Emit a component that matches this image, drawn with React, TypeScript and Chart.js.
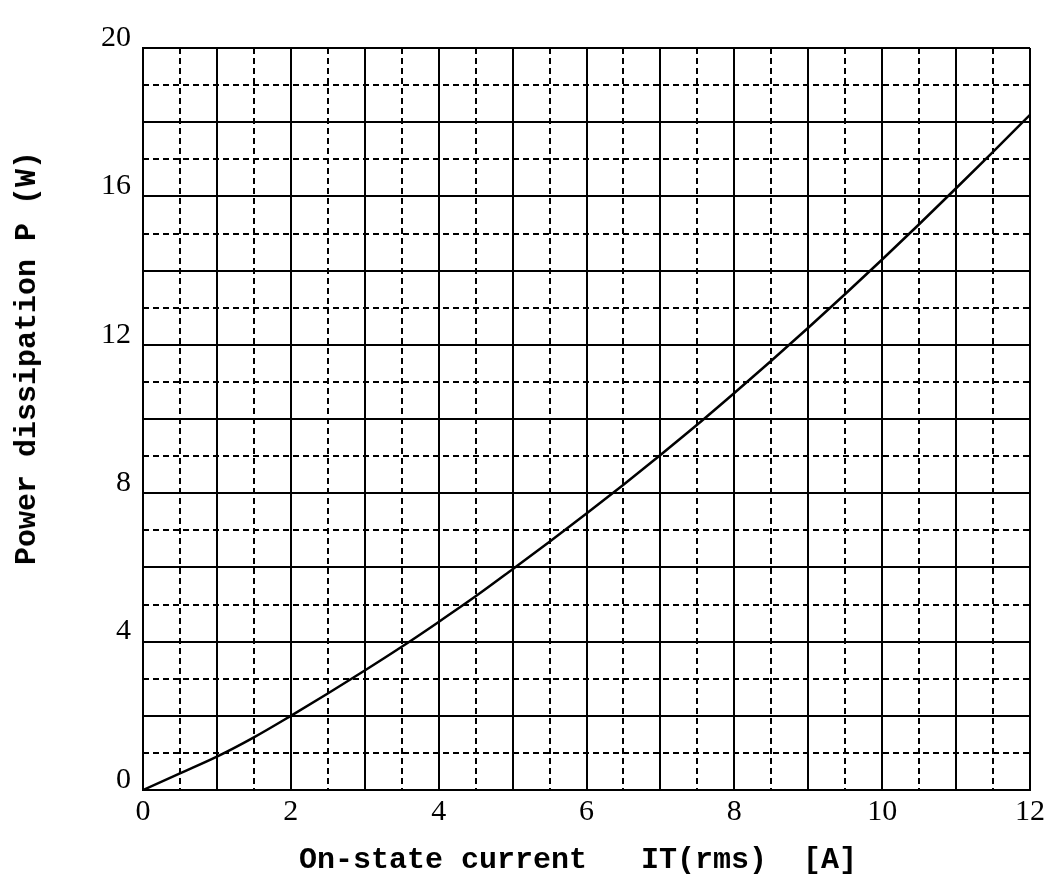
import React, { useEffect, useRef } from "react";
import { Chart, registerables } from "chart.js";

Chart.register(...registerables);

// On-state current IT(rms) [A]
const current = [0, 0.5, 1, 1.5, 2, 2.5, 3, 3.5, 4, 4.5, 5, 5.5, 6, 6.5, 7, 7.5, 8, 8.5, 9, 9.5, 10, 10.5, 11, 11.5, 12];
// Power dissipation P (W)
const power = [0, 0.45, 0.9, 1.42, 2.0, 2.6, 3.22, 3.86, 4.53, 5.22, 5.95, 6.69, 7.45, 8.23, 9.03, 9.85, 10.7, 11.57, 12.46, 13.37, 14.3, 15.25, 16.22, 17.2, 18.2];

const xLabelValues = [0, 2, 4, 6, 8, 10, 12];
const yLabelValues = [0, 4, 8, 12, 16, 20];

const xTitle = "On-state current   IT(rms)  [A]";
const yTitle = "Power dissipation P (W)";

export default function App() {
  const ref = useRef<HTMLCanvasElement | null>(null);

  useEffect(() => {
    if (!ref.current) return;
    const chart = new Chart(ref.current, {
      type: "line",
      data: {
        datasets: [
          {
            data: current.map((x, i) => ({ x, y: power[i] })),
            borderColor: "#000",
            borderWidth: 2.5,
            pointRadius: 0,
            cubicInterpolationMode: "monotone",
            fill: false,
          },
        ],
      },
      options: {
        animation: false,
        responsive: false,
        layout: { padding: { left: 0, right: 15, top: 48, bottom: 0 } },
        plugins: { legend: { display: false }, tooltip: { enabled: false } },
        scales: {
          x2: {
            type: "linear",
            position: "bottom",
            min: 0,
            max: 12,
            ticks: { stepSize: 0.5, display: false, autoSkip: false },
            grid: {
              drawTicks: false,
              lineWidth: 2,
              color: (ctx: any) => (ctx.tick && Math.abs(ctx.tick.value % 1) < 1e-6 ? "rgba(0,0,0,0)" : "#000"),
            },
            border: { display: false, dash: [6, 4] },
          },
          y2: {
            type: "linear",
            position: "left",
            min: 0,
            max: 20,
            ticks: { stepSize: 1, display: false, autoSkip: false },
            grid: {
              drawTicks: false,
              lineWidth: 2,
              color: (ctx: any) => (ctx.tick && Math.abs(ctx.tick.value % 2) < 1e-6 ? "rgba(0,0,0,0)" : "#000"),
            },
            border: { display: false, dash: [6, 4] },
          },
          x: {
            type: "linear",
            position: "bottom",
            min: 0,
            max: 12,
            afterFit: (scale: any) => {
              scale.height = 102;
            },
            ticks: {
              stepSize: 1,
              autoSkip: false,
              maxRotation: 0,
              padding: 4,
              color: "#000",
              font: { family: "Liberation Serif", size: 30 },
              callback: (v: any) => (xLabelValues.includes(Number(v)) ? String(v) : ""),
            },
            grid: { drawTicks: false, color: "#000", lineWidth: 2 },
            border: { display: true, color: "#000", width: 2 },
          },
          y: {
            type: "linear",
            position: "left",
            min: 0,
            max: 20,
            afterFit: (scale: any) => {
              scale.width = 143;
            },
            ticks: {
              stepSize: 2,
              autoSkip: false,
              padding: 12,
              labelOffset: -10,
              color: "#000",
              font: { family: "Liberation Serif", size: 30 },
              callback: (v: any) => (yLabelValues.includes(Number(v)) ? String(v) : ""),
            },
            grid: { drawTicks: false, color: "#000", lineWidth: 2 },
            border: { display: true, color: "#000", width: 2 },
          },
        },
      },
    });
    return () => chart.destroy();
  }, []);

  return (
    <div style={{ position: "absolute", left: 0, top: 0, width: 1049, height: 892, background: "#fff", overflow: "hidden" }}>
      <canvas ref={ref} width={1049} height={892} style={{ position: "absolute", left: 0, top: 0 }} />
      <div
        style={{
          position: "absolute",
          left: 578,
          top: 860,
          transform: "translate(-50%, -50%)",
          fontFamily: "'Liberation Mono', monospace",
          fontWeight: "bold",
          fontSize: 30,
          whiteSpace: "pre",
          color: "#000",
        }}
      >
        {xTitle}
      </div>
      <div
        style={{
          position: "absolute",
          left: 27,
          top: 358,
          transform: "translate(-50%, -50%) rotate(-90deg)",
          fontFamily: "'Liberation Mono', monospace",
          fontWeight: "bold",
          fontSize: 30,
          whiteSpace: "pre",
          color: "#000",
        }}
      >
        {yTitle}
      </div>
    </div>
  );
}
